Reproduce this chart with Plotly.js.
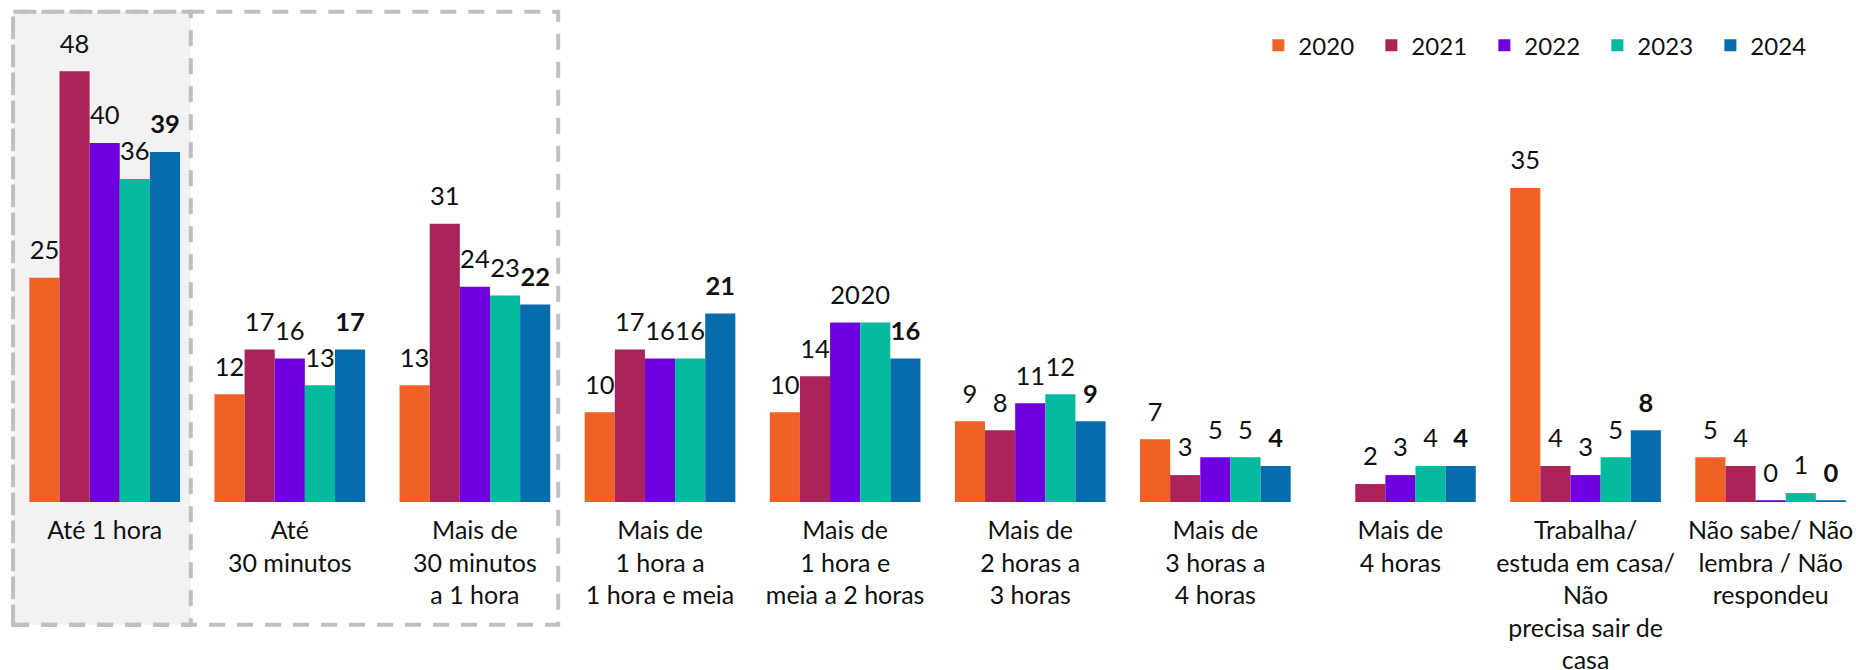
<!DOCTYPE html>
<html><head><meta charset="utf-8">
<script src="https://cdn.plot.ly/plotly-3.0.1.min.js"></script>
<style>html,body{margin:0;padding:0;background:#fff;} #chart{width:1856px;height:670px;}</style>
</head><body><div id="chart"></div>
<script>
const categories = ["Até 1 hora","Até<br>30 minutos","Mais de<br>30 minutos<br>a 1 hora","Mais de<br>1 hora a<br>1 hora e meia","Mais de<br>1 hora e<br>meia a 2 horas","Mais de<br>2 horas a<br>3 horas","Mais de<br>3 horas a<br>4 horas","Mais de<br>4 horas","Trabalha/<br>estuda em casa/<br>Não<br>precisa sair de<br>casa","Não sabe/ Não<br>lembra / Não<br>respondeu"];
const years = ["2020","2021","2022","2023","2024"];
const v2020 = [25,12,13,10,10,9,7,null,35,5];
const v2021 = [48,17,31,17,14,8,3,2,4,4];
const v2022 = [40,16,24,16,20,11,5,3,3,0.2];
const v2023 = [36,13,23,16,20,12,5,4,5,1];
const v2024 = [39,17,22,21,16,9,4,4,8,0.2];
const colors = ["#F06125","#AA2459","#7000E0","#05BA9D","#076CAE"];

const series = [v2020,v2021,v2022,v2023,v2024];
const FONT = "Lato, 'Noto Sans', sans-serif";
const traces = [];
series.forEach((vals,i)=>{
  traces.push({type:'bar', name:years[i], x:categories, y:vals,
    marker:{color:colors[i]}, hoverinfo:'skip', textposition:'none'});
});
series.forEach((vals,i)=>{
  traces.push({type:'scatter', mode:'markers+text', x:categories, y:vals, showlegend:false,
    marker:{size:18, opacity:0, color:colors[i]}, hoverinfo:'skip', cliponaxis:false,
    texttemplate:'%{y:.0f}', textposition:'top center',
    textfont:{family:FONT, size:25.5, color:'#111', weight: i===4 ? 'bold' : 'normal'}});
});

const layout = {
  width:1856, height:670,
  margin:{l:0,r:0,t:0,b:167.7, autoexpand:false},
  paper_bgcolor:'#fff', plot_bgcolor:'rgba(0,0,0,0)',
  font:{family:FONT, color:'#111'},
  barmode:'group', bargap:0.186, bargroupgap:0,
  scattermode:'group', scattergap:0.186,
  xaxis:{type:'category', range:[-0.5656, 9.461], showgrid:false, zeroline:false, showline:false,
    ticks:'', tickangle:0, automargin:false, ticklabelstandoff:11,
    tickfont:{family:FONT, size:25, color:'#111'}, fixedrange:true},
  yaxis:{range:[0,55.94], visible:false, fixedrange:true},
  legend:{orientation:'h', x:0.678, xanchor:'left', y:0.909, yanchor:'middle',
    font:{family:FONT, size:24, color:'#111'}, entrywidth:68, bgcolor:'rgba(0,0,0,0)', traceorder:'normal'},
  shapes:[
    {type:'rect', xref:'x', yref:'paper', x0:-0.495, x1:0.465, y0:-0.2443, y1:0.9767,
     fillcolor:'#F2F2F2', line:{color:'#BFBFBF', width:4, dash:'16px,12px'}, layer:'below'},
    {type:'rect', xref:'x', yref:'paper', x0:-0.495, x1:2.45, y0:-0.2443, y1:0.9767,
     fillcolor:'rgba(0,0,0,0)', line:{color:'#BFBFBF', width:4, dash:'16px,12px'}, layer:'below'}
  ]
};
Plotly.newPlot('chart', traces, layout, {displayModeBar:false, staticPlot:true});
</script></body></html>
